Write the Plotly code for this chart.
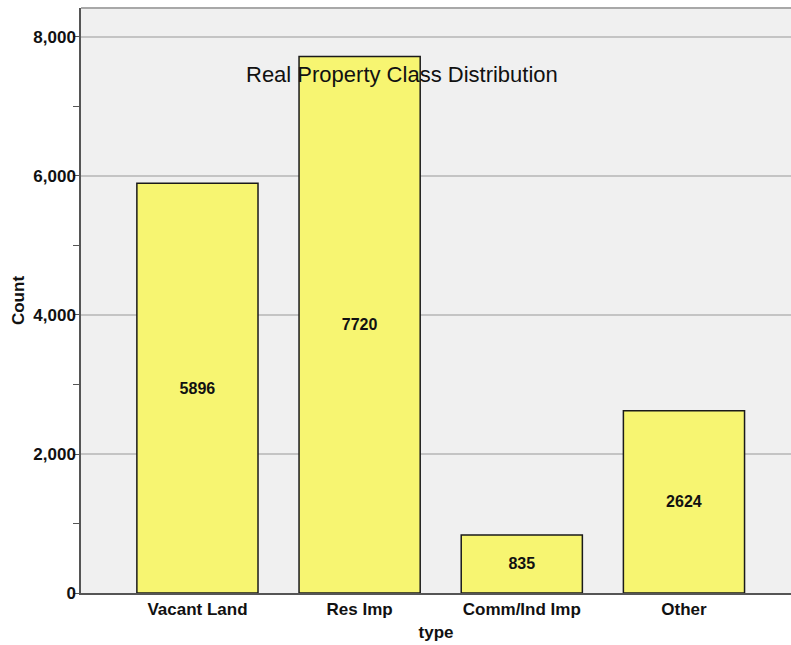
import plotly.graph_objects as go

categories = ["Vacant Land", "Res Imp", "Comm/Ind Imp", "Other"]
counts = [5896, 7720, 835, 2624]
y_ticks = [0, 2000, 4000, 6000, 8000]
y_tick_text = ["0", "2,000", "4,000", "6,000", "8,000"]

FONT = "Liberation Sans, Arial, sans-serif"

fig = go.Figure()
fig.add_trace(go.Bar(
    x=categories,
    y=counts,
    marker=dict(color="#f7f571", line=dict(color="#1a1a1a", width=1.5)),
    text=[str(v) for v in counts],
    textposition="inside",
    insidetextanchor="middle",
    textangle=0,
    textfont=dict(family=FONT, size=16, color="#111111", weight="bold"),
    hoverinfo="x+y",
))

# chart title sits inside the plot area
fig.add_annotation(
    x=0.452, xref="paper", y=(593 - 74) / 585, yref="paper",
    xanchor="center", yanchor="middle",
    text="Real Property Class Distribution", showarrow=False,
    font=dict(family=FONT, size=22, color="#111111"),
)

# thin border along the top of the plot area
fig.add_shape(type="line", xref="paper", yref="paper", x0=0, x1=1, y0=1, y1=1,
              line=dict(color="#a8a8a8", width=2))

fig.update_layout(
    width=791, height=645,
    margin=dict(l=81, r=0, t=8, b=52),
    paper_bgcolor="white",
    plot_bgcolor="#f0f0f0",
    bargap=0.253,
    showlegend=False,
    font=dict(family=FONT, color="#111111"),
)

fig.update_xaxes(
    range=[-0.718, 3.66],
    showgrid=False,
    showline=True, linecolor="#555555", linewidth=1.5,
    ticks="", tickfont=dict(family=FONT, size=17, color="#111111", weight="bold"),
    title=dict(text="type", font=dict(family=FONT, size=17, color="#111111", weight="bold"), standoff=8),
    fixedrange=True,
)

fig.update_yaxes(
    range=[0, 8417],
    tickvals=y_ticks, ticktext=y_tick_text,
    showgrid=True, gridcolor="#c4c4c4", gridwidth=1.5,
    zeroline=False,
    showline=True, linecolor="#555555", linewidth=1.5,
    ticks="",
    minor=dict(dtick=1000, ticks="outside", ticklen=6, tickcolor="#555555", showgrid=False),
    tickfont=dict(family=FONT, size=17, color="#111111", weight="bold"),
    title=dict(text="Count", font=dict(family=FONT, size=17, color="#111111", weight="bold"), standoff=4),
    fixedrange=True,
)

fig.write_html("out.html")
